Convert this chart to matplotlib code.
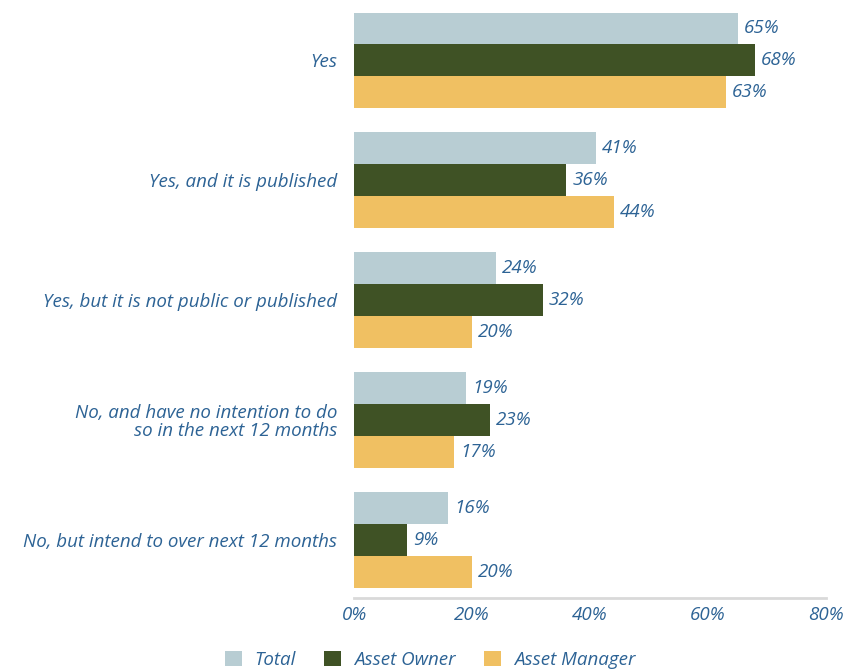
import numpy as np
import matplotlib.pyplot as plt
from matplotlib.patches import Patch

categories = [
    "Yes",
    "Yes, and it is published",
    "Yes, but it is not public or published",
    "No, and have no intention to do\nso in the next 12 months",
    "No, but intend to over next 12 months",
]
series_names = ["Total", "Asset Owner", "Asset Manager"]
total = [65, 41, 24, 19, 16]
asset_owner = [68, 36, 32, 23, 9]
asset_manager = [63, 44, 20, 17, 20]
xticks = [0, 20, 40, 60, 80]

colors = ["#b8cdd3", "#3f5225", "#f0c062"]
text_col = "#2d6395"
font = ["Open Sans", "DejaVu Sans"]
fs = 13.5

fig = plt.figure(figsize=(8.43, 6.70), dpi=100)
ax = fig.add_axes([0.42, 0.1075, 0.56, 0.873])

y = np.arange(len(categories))
h = 0.267
for k, (vals, c) in enumerate(zip([total, asset_owner, asset_manager], colors)):
    pos = y + (k - 1) * h
    ax.barh(pos, vals, height=h, color=c, edgecolor="none")
    for p, v in zip(pos, vals):
        ax.text(v + 1.0, p, f"{v}%", va="center", ha="left", fontsize=fs,
                style="italic", color=text_col, family=font)

ax.set_xlim(0, 80)
ax.set_ylim(4.483, -0.392)
ax.set_yticks(y)
ax.set_yticklabels(categories, fontsize=fs, style="italic", color=text_col,
                   family=font, ha="right", multialignment="right",
                   linespacing=1.0)
ax.set_xticks(xticks)
ax.set_xticklabels([f"{t}%" for t in xticks], fontsize=fs, style="italic",
                   color=text_col, family=font)
ax.tick_params(length=0)
ax.tick_params(axis="y", pad=12)
ax.tick_params(axis="x", pad=6)
for s in ["top", "right", "left"]:
    ax.spines[s].set_visible(False)
ax.spines["bottom"].set_color("#d9d9d9")
ax.spines["bottom"].set_linewidth(2)

handles = [Patch(facecolor=c, edgecolor="none") for c in colors]
fig.legend(handles, series_names, loc="center", bbox_to_anchor=(0.51, 0.015),
           ncol=3, frameon=False, handlelength=0.9, handleheight=0.9,
           columnspacing=1.5, handletextpad=0.7,
           prop={"family": font, "style": "italic", "size": fs},
           labelcolor=text_col)

fig.savefig("out.png", dpi=100)
